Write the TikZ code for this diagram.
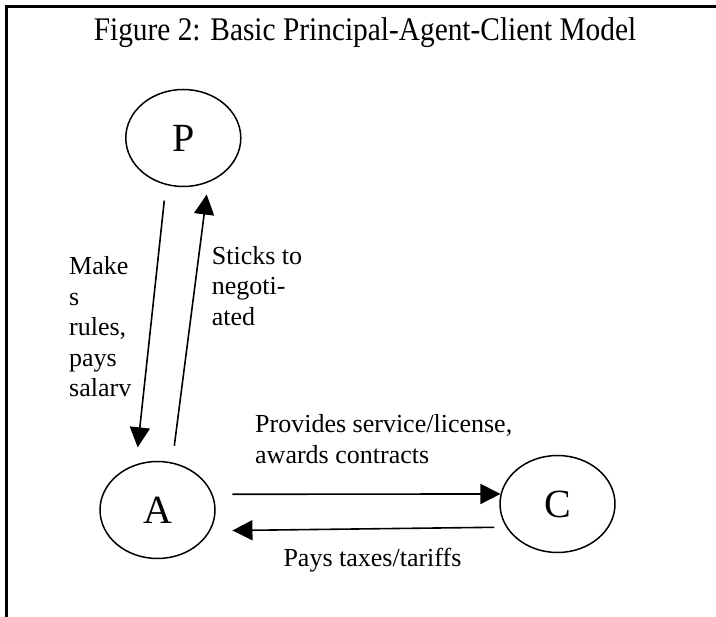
\documentclass[tikz,border=0pt]{standalone}
\usepackage{fontspec}
\setmainfont{Liberation Serif}
\usetikzlibrary{shapes.geometric,arrows.meta}

\begin{document}
\begin{tikzpicture}[x=1pt,y=-1pt,
	ent/.style={ellipse,draw,line width=1.5pt,minimum width=115pt,minimum height=97pt,inner sep=0pt,font=\fontsize{40}{48}\selectfont},
	arr/.style={-{Triangle[length=20pt,width=20pt]},line width=1.6pt},
	lbl/.style={anchor=base west,align=left,inner sep=0pt,font=\fontsize{26}{30.6}\selectfont}]
	\useasboundingbox (0,0) rectangle (716,617);
	\draw [line width=3pt] (6.5,617) -- (6.5,6.5) -- (716,6.5);
	\node (title) at (365,41) [anchor=base,inner sep=0pt] {\scalebox{0.89}[1]{\fontsize{33}{40}\selectfont Figure 2: Basic Principal-Agent-Client Model}};
	\node [ent] (P) at (183.3,138) {P};
	\node [ent] (A) at (157.5,510) {A};
	\node [ent] (C) at (557.5,504) {C};
	\draw [arr] ([xshift=-19pt,yshift=-13.3pt]P.south) -- ([xshift=-19.8pt,yshift=13.4pt]A.north);
	\draw [arr] ([xshift=16.8pt,yshift=15pt]A.north) -- ([xshift=23.4pt,yshift=-7.3pt]P.south);
	\draw [arr] ([xshift=16.7pt,yshift=15.7pt]A.east) -- (C.170);
	\draw [arr] ([xshift=-5pt,yshift=-23.3pt]C.west) -- ([xshift=16.7pt,yshift=-20.5pt]A.east);
	% base of a many-line label is its last line
	\node [lbl] (rules) at (69,397) {Make\\s\\rules,\\pays\\salarv};
	\node [lbl] (sticks) at (211.7,325.5) {Sticks to\\negoti-\\ated};
	\node [lbl] (provides) at (255,463.3) {Provides service/license,\\awards contracts};
	\node [lbl] (pays) at (283.3,566.7) {Pays taxes/tariffs};
\end{tikzpicture}
\end{document}
